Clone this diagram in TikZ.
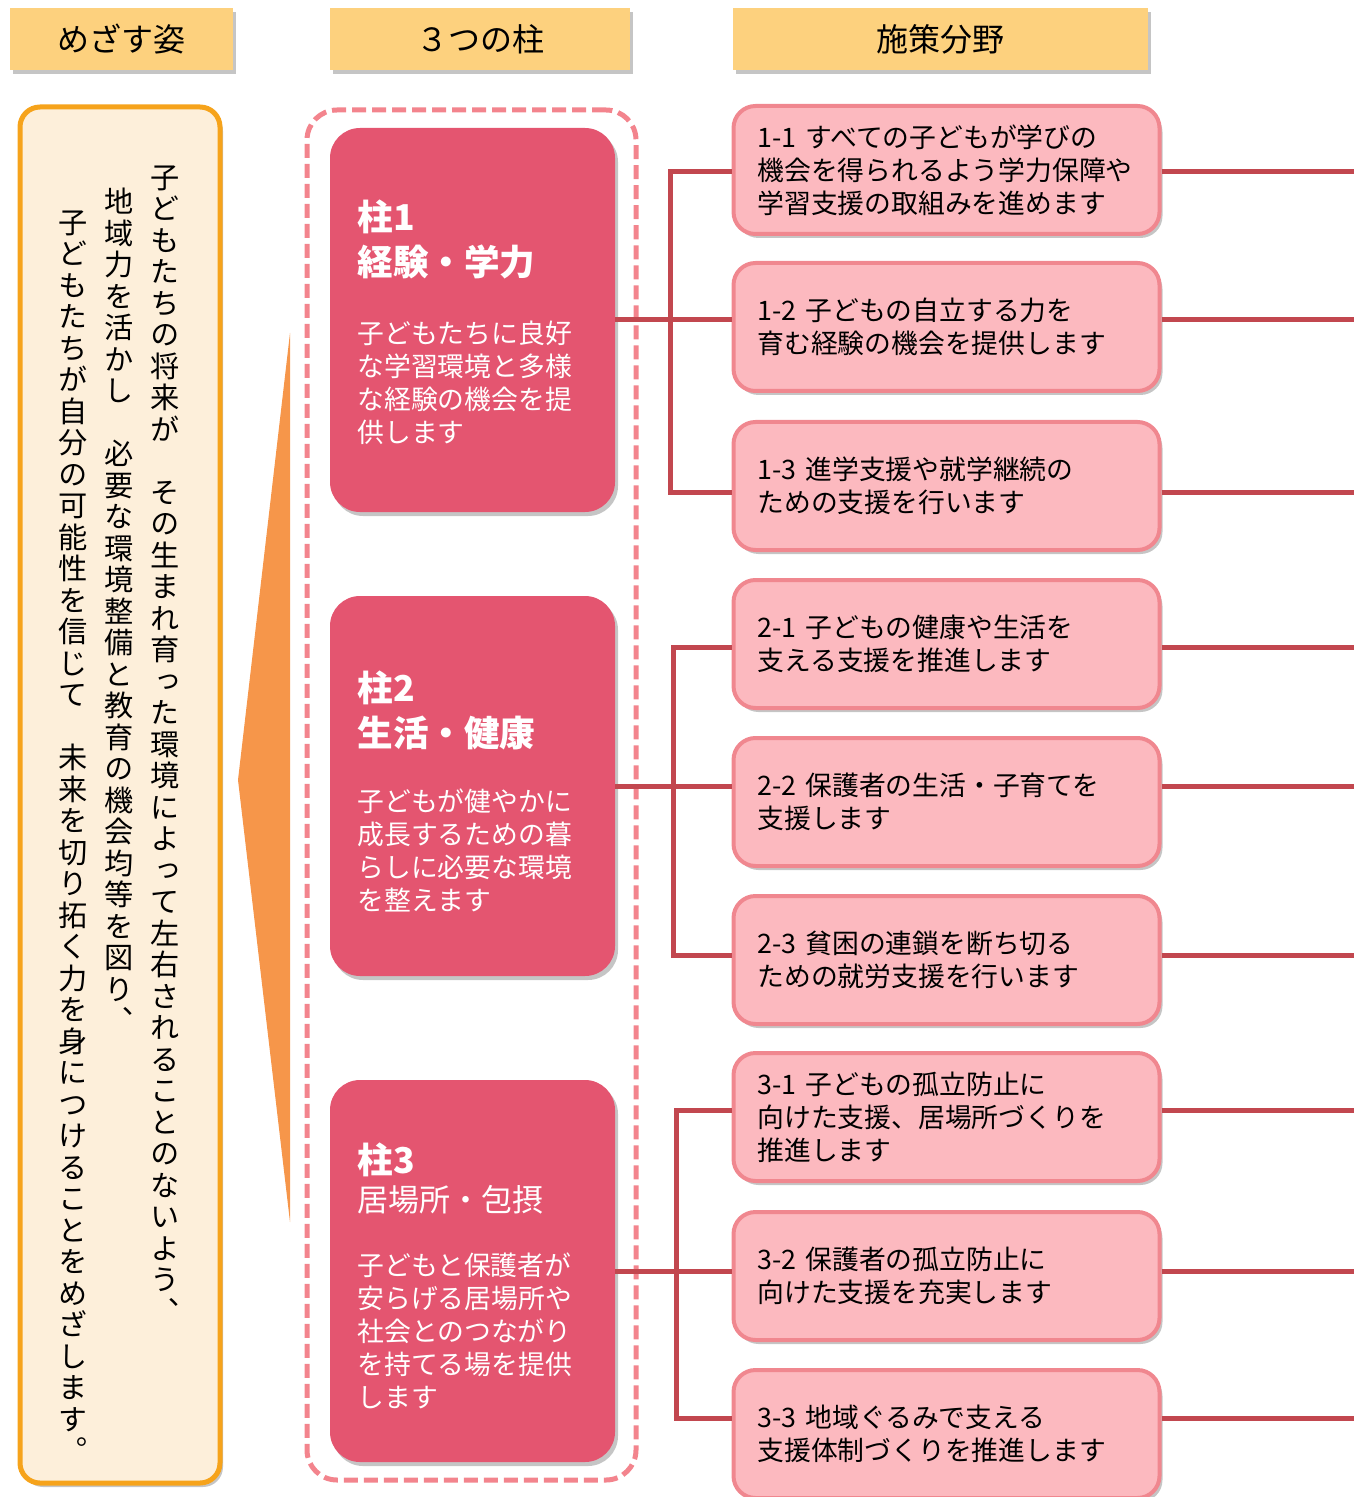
\documentclass[tikz,border=0pt]{standalone}
\usepackage{fontspec}
\usetikzlibrary{shadows}
\setmainfont{Noto Sans CJK JP}
\newfontfamily\vjp{Noto Sans CJK JP}[RawFeature=+vert]
\definecolor{hdr}{HTML}{FDD17E}
\definecolor{goalfill}{HTML}{FDEFDA}
\definecolor{goaldraw}{HTML}{F6A31B}
\definecolor{tri}{HTML}{F6964A}
\definecolor{dashc}{HTML}{F3848D}
\definecolor{pill}{HTML}{E45570}
\definecolor{mfill}{HTML}{FCB9BF}
\definecolor{mdraw}{HTML}{F0878F}
\definecolor{connc}{HTML}{C2474F}
\ExplSyntaxOn
\NewDocumentCommand\vtext{m}{
  \vbox{\vjp\fontsize{14.6pt}{15.75pt}\selectfont
    \baselineskip=15.75pt \lineskiplimit=-\maxdimen
    \tl_map_inline:nn {#1} {\hbox to 1em {\hss ##1 \hss}}
  }
}
\ExplSyntaxOff
\begin{document}
\begin{tikzpicture}[x=0.5pt,y=-0.5pt,
  shd/.style={drop shadow={shadow xshift=1.5pt,shadow yshift=-2pt,fill=black!45,opacity=0.5}},
  hdrbox/.style={fill=hdr, minimum height=31pt, inner sep=0, font=\fontsize{16pt}{18pt}\selectfont, shd},
  goal/.style={draw=goaldraw, line width=2.5pt, fill=goalfill, rounded corners=10pt, inner sep=0, shd},
  dashbox/.style={draw=dashc, line width=2.5pt, dash pattern=on 7pt off 3pt, rounded corners=15pt, inner sep=0},
  pillar/.style={fill=pill, rounded corners=15pt, inner sep=0, shd},
  ptitle/.style={anchor=north west, inner sep=0, text=white, align=left, font=\fontsize{17.8pt}{22.5pt}\selectfont\bfseries},
  pbody/.style={anchor=north west, inner sep=0, text=white, align=left, font=\fontsize{13.4pt}{16.5pt}\selectfont},
  measure/.style={draw=mdraw, line width=2pt, fill=mfill, rounded corners=11pt, text width=189pt, inner xsep=12pt, inner ysep=0pt, minimum height=64pt, align=left, font=\fontsize{13.4pt}{16.5pt}\selectfont, shd},
  conn/.style={draw=connc, line width=2.5pt},
  vcol/.style={anchor=north, inner sep=0}]
\useasboundingbox (0,0) rectangle (1354,1497);

% headers
\node[hdrbox, minimum width=111.5pt] (hA) at (121.5,39) {めざす姿};
\node[hdrbox, minimum width=150pt] (hB) at (480,39) {３つの柱};
\node[hdrbox, minimum width=207.5pt] (hC) at (940.5,39) {施策分野};

% goal box
\node[goal, minimum width=100pt, minimum height=688pt] (goal) at (120,795) {};
\node[vcol] (v1) at (165,165) {\vtext{子どもたちの将来が{}その生まれ育った環境によって左右されることのないよう、}};
\node[vcol] (v2) at (119,188) {\vtext{地域力を活かし{}必要な環境整備と教育の機会均等を図り、}};
\node[vcol] (v3) at (73,210) {\vtext{子どもたちが自分の可能性を信じて{}未来を切り拓く力を身につけることをめざします。}};

% orange wedge
\fill[tri] (290,333) -- (238,780) -- (290,1222) -- cycle;

% dashed group
\node[dashbox, minimum width=164.5pt, minimum height=685pt] (grp) at (471.5,795) {};

% connector coordinates
\coordinate (e) at (1354,0);
\coordinate (b1t) at (670,172);
\coordinate (b1b) at (670,492);
\coordinate (b2t) at (673,647);
\coordinate (b2b) at (673,955);
\coordinate (b3t) at (676,1110);
\coordinate (b3b) at (676,1418);

% pillars
\node[pillar, minimum width=142.5pt, minimum height=192pt] (p1) at (472.5,320) {};
\node[pillar, minimum width=142.5pt, minimum height=190pt] (p2) at (472.5,786) {};
\node[pillar, minimum width=142.5pt, minimum height=191pt] (p3) at (472.5,1271) {};

% measures
\node[measure] (m11) at (946.5,170) {1-1 すべての子どもが学びの\\機会を得られるよう学力保障や\\学習支援の取組みを進めます};
\node[measure] (m12) at (946.5,327) {1-2 子どもの自立する力を\\育む経験の機会を提供します};
\node[measure] (m13) at (946.5,486) {1-3 進学支援や就学継続の\\ための支援を行います};
\node[measure] (m21) at (946.5,644) {2-1 子どもの健康や生活を\\支える支援を推進します};
\node[measure] (m22) at (946.5,802) {2-2 保護者の生活・子育てを\\支援します};
\node[measure] (m23) at (946.5,960) {2-3 貧困の連鎖を断ち切る\\ための就労支援を行います};
\node[measure] (m31) at (946.5,1117) {3-1 子どもの孤立防止に\\向けた支援、居場所づくりを\\推進します};
\node[measure] (m32) at (946.5,1276) {3-2 保護者の孤立防止に\\向けた支援を充実します};
\node[measure] (m33) at (946.5,1434) {3-3 地域ぐるみで支える\\支援体制づくりを推進します};

% connectors group 1
\draw[conn] (b1t -| m11.west) -- (b1t) -- (b1b) -- (b1b -| m13.west);
\draw[conn] (p1.east) -- (p1.east -| m12.west);
% group 2
\draw[conn] (b2t -| m21.west) -- (b2t) -- (b2b) -- (b2b -| m23.west);
\draw[conn] (p2.east) -- (p2.east -| m22.west);
% group 3
\draw[conn] (b3t -| m31.west) -- (b3t) -- (b3b) -- (b3b -| m33.west);
\draw[conn] (p3.east) -- (p3.east -| m32.west);
% right side
\draw[conn] (b1t -| m11.east) -- (b1t -| e);
\draw[conn] (p1.east -| m12.east) -- (p1.east -| e);
\draw[conn] (b1b -| m13.east) -- (b1b -| e);
\draw[conn] (b2t -| m21.east) -- (b2t -| e);
\draw[conn] (p2.east -| m22.east) -- (p2.east -| e);
\draw[conn] (b2b -| m23.east) -- (b2b -| e);
\draw[conn] (b3t -| m31.east) -- (b3t -| e);
\draw[conn] (p3.east -| m32.east) -- (p3.east -| e);
\draw[conn] (b3b -| m33.east) -- (b3b -| e);

% pillar texts
\node[ptitle] (t1) at (357,199) {柱1\\経験・学力};
\node[pbody] (d1) at (357,321) {子どもたちに良好\\な学習環境と多様\\な経験の機会を提\\供します};
\node[ptitle] (t2) at (357,670) {柱2\\生活・健康};
\node[pbody] (d2) at (357,788) {子どもが健やかに\\成長するための暮\\らしに必要な環境\\を整えます};
\node[ptitle] (t3) at (357,1142) {柱3};
\node[anchor=north west, inner sep=0, text=white, font=\fontsize{15.5pt}{18pt}\selectfont] (t3b) at (357,1185) {居場所・包摂};
\node[pbody] (d3) at (357,1252) {子どもと保護者が\\安らげる居場所や\\社会とのつながり\\を持てる場を提供\\します};
\end{tikzpicture}
\end{document}
